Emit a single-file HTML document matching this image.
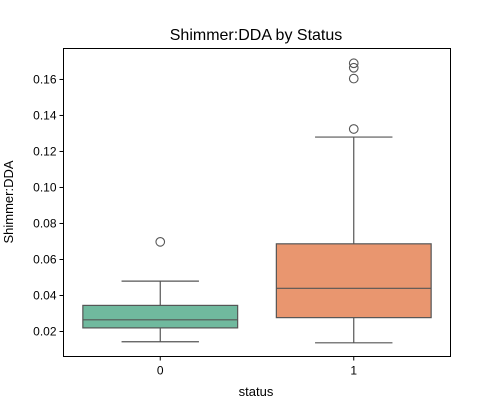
<!DOCTYPE html>
<html><head><meta charset="utf-8"><style>
body{margin:0;background:#fff;font-family:"Liberation Sans","DejaVu Sans",sans-serif}
</style></head><body>
<svg width="500" height="400" xmlns="http://www.w3.org/2000/svg">
<rect width="500" height="400" fill="#fff"/>
<text x="256" y="40" text-anchor="middle" font-size="16">Shimmer:DDA by Status</text>
<g id="plot"></g>
<rect x="63.5" y="48.5" width="387" height="308" fill="none" stroke="#000" stroke-width="1"/>
<text x="256" y="396" text-anchor="middle" font-size="13">status</text>
<text transform="translate(13,202) rotate(-90)" text-anchor="middle" font-size="13">Shimmer:DDA</text>
</svg>
<script>
const categories=["0","1"];
const whiskerLow=[0.0143,0.0137];
const q1=[0.022,0.0277];
const median=[0.0265,0.044];
const q3=[0.0345,0.0687];
const whiskerHigh=[0.048,0.128];
const outliers=[[0.0698],[0.1325,0.1605,0.1665,0.169]];
const yTicks=[0.02,0.04,0.06,0.08,0.10,0.12,0.14,0.16];
const colors=["#70b99e","#e9966f"];
const ns="http://www.w3.org/2000/svg";
const plotG=document.getElementById("plot");
const yMin=0.00611,yMax=0.1772,plotTop=48.5,plotBot=356.5,plotLeft=63.5,plotRight=450.5;
function yScale(v){return plotBot-(v-yMin)/(yMax-yMin)*(plotBot-plotTop);}
function xScale(i){return plotLeft+(plotRight-plotLeft)*(i+0.5)/categories.length;}
function mk(t,a,name){const e=document.createElementNS(ns,t);for(const k in a)e.setAttribute(k,a[k]);


plotG.appendChild(e);return e;}
yTicks.forEach(v=>{
mk("line",{x1:plotLeft-4,x2:plotLeft,y1:yScale(v),y2:yScale(v),stroke:"#000"},"y-tick");
const t=mk("text",{x:plotLeft-7,y:yScale(v)+4,"text-anchor":"end","font-size":"12"},"y-tick-label");t.textContent=v.toFixed(2);
});
const bw=(plotRight-plotLeft)/categories.length*0.8;
categories.forEach((c,i)=>{
const cx=xScale(i);
mk("line",{x1:cx,x2:cx,y1:plotBot,y2:plotBot+4,stroke:"#000"},"x-tick");
const t=mk("text",{x:cx,y:plotBot+18,"text-anchor":"middle","font-size":"12"},"x-tick-label");t.textContent=c;
mk("line",{x1:cx,x2:cx,y1:yScale(whiskerLow[i]),y2:yScale(q1[i]),stroke:"#555","stroke-width":1.2},"whisker-low");
mk("line",{x1:cx,x2:cx,y1:yScale(q3[i]),y2:yScale(whiskerHigh[i]),stroke:"#555","stroke-width":1.2},"whisker-high");
mk("line",{x1:cx-bw/4,x2:cx+bw/4,y1:yScale(whiskerLow[i]),y2:yScale(whiskerLow[i]),stroke:"#555","stroke-width":1.2},"cap-low");
mk("line",{x1:cx-bw/4,x2:cx+bw/4,y1:yScale(whiskerHigh[i]),y2:yScale(whiskerHigh[i]),stroke:"#555","stroke-width":1.2},"cap-high");
mk("rect",{x:cx-bw/2,y:yScale(q3[i]),width:bw,height:yScale(q1[i])-yScale(q3[i]),fill:colors[i],stroke:"#555","stroke-width":1.2},"box-"+c);
mk("line",{x1:cx-bw/2,x2:cx+bw/2,y1:yScale(median[i]),y2:yScale(median[i]),stroke:"#555","stroke-width":1.2},"median-"+c);
outliers[i].forEach(v=>mk("circle",{cx:cx,cy:yScale(v),r:4.3,fill:"none",stroke:"#555","stroke-width":1.1},"outlier"));
});
</script>
</body></html>
